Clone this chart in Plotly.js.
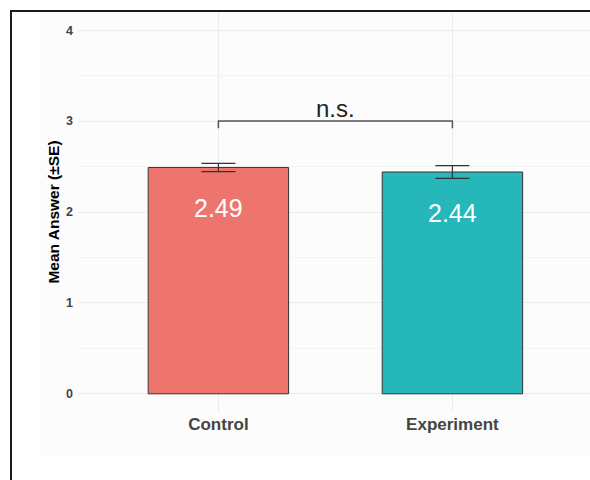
<!DOCTYPE html>
<html>
<head>
<meta charset="utf-8">
<script src="https://cdn.plot.ly/plotly-3.0.1.min.js"></script>
<style>html,body{margin:0;padding:0;background:#fff;overflow:hidden;}</style>
</head>
<body>
<div id="chart" style="width:590px;height:480px;"></div>
<script>
// ---- data ----
var categories = ['Control', 'Experiment'];
var means = [2.49, 2.44];
var stdErrors = [0.045, 0.07];
var barLabels = ['2.49', '2.44'];
var yTickValues = [0, 1, 2, 3, 4];
var yTickLabels = ['0', '1', '2', '3', '4'];
var comparisonY = 3;
var comparisonLabel = 'n.s.';

// ---- styling ----
var barColors = ['#EE756D', '#26B7BA'];
var FONT = 'Liberation Sans, Arial, Helvetica, sans-serif';
var W = 590, H = 480;
var M = {l: 78, r: 0, t: 12, b: 68};
var plotW = W - M.l - M.r, plotH = H - M.t - M.b;
function px2x(px) { return (px - M.l) / plotW; }
function px2y(py) { return (H - M.b - py) / plotH; }

var xIdx = categories.map(function (c, i) { return i; });

var bars = {
  type: 'bar',
  x: xIdx,
  y: means,
  width: 0.6,
  marker: {color: barColors, line: {color: '#333333', width: 1}},
  error_y: {type: 'data', array: stdErrors, visible: true, color: '#333333', thickness: 1.2, width: 17},
  hoverinfo: 'skip',
  showlegend: false
};

var annotations = xIdx.map(function (i) {
  return {
    x: i, y: means[i] - 0.45, xref: 'x', yref: 'y',
    text: barLabels[i], showarrow: false,
    font: {family: FONT, size: 25, color: '#ffffff'},
    xanchor: 'center', yanchor: 'middle'
  };
});
annotations.push({
  x: (xIdx[0] + xIdx[1]) / 2, y: comparisonY, xref: 'x', yref: 'y',
  text: comparisonLabel, showarrow: false,
  font: {family: FONT, size: 24, color: '#222222'},
  xanchor: 'center', yanchor: 'bottom', yshift: -3
});

var tickDrop = 0.08;
var shapes = [
  // faint panel background
  {type: 'rect', xref: 'paper', yref: 'paper', layer: 'below',
   x0: px2x(40), x1: px2x(590), y0: px2y(456), y1: px2y(12),
   fillcolor: '#fcfcfc', line: {width: 0}},
  // outer black frame (left and top edges visible)
  {type: 'path', xref: 'paper', yref: 'paper', layer: 'above',
   path: 'M ' + px2x(11) + ',' + px2y(480) + ' L ' + px2x(11) + ',' + px2y(11) + ' L ' + px2x(590) + ',' + px2y(11),
   line: {color: '#1a1a1a', width: 2}},
  // comparison bracket
  {type: 'path', xref: 'x', yref: 'y', layer: 'above',
   path: 'M ' + xIdx[0] + ',' + (comparisonY - tickDrop) +
         ' L ' + xIdx[0] + ',' + comparisonY +
         ' L ' + xIdx[1] + ',' + comparisonY +
         ' L ' + xIdx[1] + ',' + (comparisonY - tickDrop),
   line: {color: '#555555', width: 1.5}}
];

var layout = {
  width: W, height: H,
  margin: M,
  paper_bgcolor: '#ffffff',
  plot_bgcolor: 'rgba(0,0,0,0)',
  font: {family: FONT},
  xaxis: {
    range: [-0.6, 1.588],
    tickvals: xIdx, ticktext: categories,
    showgrid: true, gridcolor: '#ebebeb', gridwidth: 1,
    zeroline: false, showline: false, ticks: '',
    tickfont: {family: FONT, size: 17, color: '#444444', weight: 'bold'},
    ticklabelstandoff: 0,
    fixedrange: true
  },
  yaxis: {
    range: [-0.2, 4.2],
    tickvals: yTickValues, ticktext: yTickLabels,
    showgrid: true, gridcolor: '#ebebeb', gridwidth: 1,
    minor: {dtick: 0.5, tick0: 0, showgrid: true, gridcolor: '#f3f3f3', gridwidth: 1},
    zeroline: false, showline: false, ticks: '',
    tickfont: {family: FONT, size: 12.5, color: '#444444', weight: 'bold'},
    ticklabelstandoff: 4,
    title: {text: 'Mean Answer (±SE)', font: {family: FONT, size: 15.5, color: '#000000', weight: 'bold'}, standoff: 2},
    fixedrange: true
  },
  annotations: annotations,
  shapes: shapes,
  bargap: 0.4,
  showlegend: false
};

Plotly.newPlot('chart', [bars], layout, {displayModeBar: false, staticPlot: true});
</script>
</body>
</html>
